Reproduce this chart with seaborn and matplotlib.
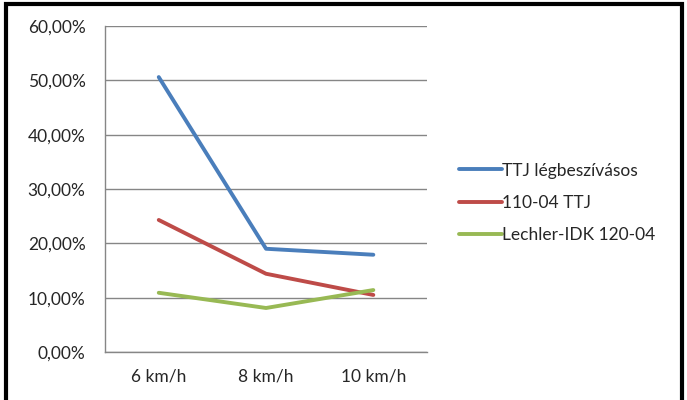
import matplotlib
matplotlib.use("Agg")
import matplotlib.pyplot as plt
import matplotlib.patches as mpatches
from matplotlib.ticker import FuncFormatter, MultipleLocator
import seaborn as sns
import pandas as pd

categories = ["6 km/h", "8 km/h", "10 km/h"]
series_names = ["TTJ légbeszívásos", "110-04 TTJ", "Lechler-IDK 120-04"]
ttj_legbe = [0.506, 0.190, 0.179]
ttj_110 = [0.243, 0.144, 0.105]
lechler = [0.109, 0.081, 0.114]
colors = ["#4A7EBB", "#BE4B48", "#98B954"]

rows = []
for name, vals in zip(series_names, [ttj_legbe, ttj_110, lechler]):
    for i, v in enumerate(vals):
        rows.append({"pos": i, "speed": categories[i], "value": v, "series": name})
df = pd.DataFrame(rows)

sns.set_style("white")
plt.rcParams["font.family"] = ["Lato", "DejaVu Sans"]

fig = plt.figure(figsize=(6.87, 4.0), dpi=100)
ax = fig.add_axes([0.153, 0.12, 0.4685, 0.815])

sns.lineplot(data=df, x="pos", y="value", hue="series", palette=colors,
             hue_order=series_names, linewidth=2.8, ax=ax, legend=False)

ax.set_xlim(-0.5, 2.5)
ax.set_ylim(0, 0.6)
ax.yaxis.set_major_locator(MultipleLocator(0.1))
ax.yaxis.set_major_formatter(FuncFormatter(lambda v, p: f"{v*100:.2f}%".replace(".", ",")))
ax.set_xticks([-0.5, 0.5, 1.5, 2.5], minor=False)
ax.set_xticklabels([])
ax.set_xticks([0, 1, 2], minor=True)
ax.set_xticklabels(categories, minor=True)
ax.tick_params(axis="x", which="minor", length=0, pad=12, labelsize=12.5)
ax.tick_params(axis="x", which="major", length=5, color="#868686", direction="out")
ax.tick_params(axis="y", length=5, color="#868686", direction="out", labelsize=12.5, pad=9)
ax.set_xlabel("")
ax.set_ylabel("")
ax.grid(axis="y", color="#868686", linewidth=1.0)
ax.set_axisbelow(True)
for s in ["top", "right"]:
    ax.spines[s].set_visible(False)
for s in ["left", "bottom"]:
    ax.spines[s].set_color("#868686")
    ax.spines[s].set_linewidth(1.0)

handles = [plt.Line2D([0], [0], color=c, linewidth=2.8) for c in colors]
fig.legend(handles, series_names, loc="center left", bbox_to_anchor=(0.645, 0.4925),
           frameon=False, fontsize=12.5, handlelength=2.5, handletextpad=0.02,
           labelspacing=0.95)

border = mpatches.Rectangle((0.009, -0.05), 0.984, 1.04, transform=fig.transFigure,
                            fill=False, edgecolor="black", linewidth=3)
fig.patches.append(border)

fig.savefig("out.png", dpi=100)
